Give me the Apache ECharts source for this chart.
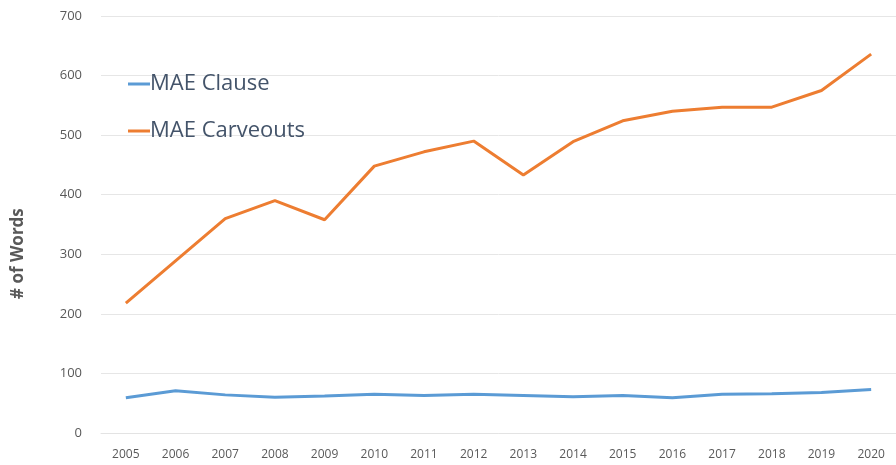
<!DOCTYPE html>
<html>
<head>
<meta charset="utf-8">
<script src="https://cdn.jsdelivr.net/npm/echarts@6/dist/echarts.min.js"></script>
<style>html,body{margin:0;padding:0;background:#fff}#c{width:896px;height:465px}</style>
</head>
<body>
<div id="c"></div>
<script>
const years = ['2005','2006','2007','2008','2009','2010','2011','2012','2013','2014','2015','2016','2017','2018','2019','2020'];
const maeClause = [59, 71, 64, 60, 62, 65, 63, 65, 63, 61, 63, 59, 65, 66, 68, 73];
const maeCarveouts = [218, 289, 360, 390, 358, 448, 472, 490, 433, 489, 524, 540, 547, 547, 575, 636];
const yTicks = {min: 0, max: 700, interval: 100};

const chart = echarts.init(document.getElementById('c'), null, {renderer: 'canvas'});
chart.setOption({
  animation: false,
  backgroundColor: '#fff',
  grid: {left: 101, top: 16, width: 800, bottom: 32, containLabel: false},
  legend: {
    orient: 'vertical', left: 123, top: 68,
    icon: 'rect', itemWidth: 22, itemHeight: 3, itemGap: 25,
    textStyle: {fontFamily: 'Open Sans', fontSize: 22, color: '#44546a', padding: [0,0,0,-5]},
    data: ['MAE Clause', 'MAE Carveouts']
  },
  graphic: [{
    type: 'text', x: 10, y: 299, rotation: Math.PI/2,
    style: {text: '# of Words', font: 'bold 17px "Open Sans"', fill: '#595959'}
  }],
  xAxis: {
    type: 'category', data: years, boundaryGap: true,
    axisLine: {show: true, lineStyle: {color: '#e3e3e3'}},
    axisTick: {show: false},
    axisLabel: {color: '#595959', fontFamily: 'Open Sans', fontSize: 12, margin: 16, interval: 0}
  },
  yAxis: {
    type: 'value', min: yTicks.min, max: yTicks.max, interval: yTicks.interval,
    axisLine: {show: false}, axisTick: {show: false},
    axisLabel: {color: '#595959', fontFamily: 'Open Sans', fontSize: 13, margin: 19},
    splitLine: {lineStyle: {color: '#e6e6e6', width: 1}}
  },
  series: [
    {name: 'MAE Clause', type: 'line', data: maeClause, symbol: 'none',
     itemStyle: {color: '#5b9bd5'}, lineStyle: {color: '#5b9bd5', width: 3}},
    {name: 'MAE Carveouts', type: 'line', data: maeCarveouts, symbol: 'none',
     itemStyle: {color: '#ed7d31'}, lineStyle: {color: '#ed7d31', width: 3}}
  ]
});
</script>
</body>
</html>
